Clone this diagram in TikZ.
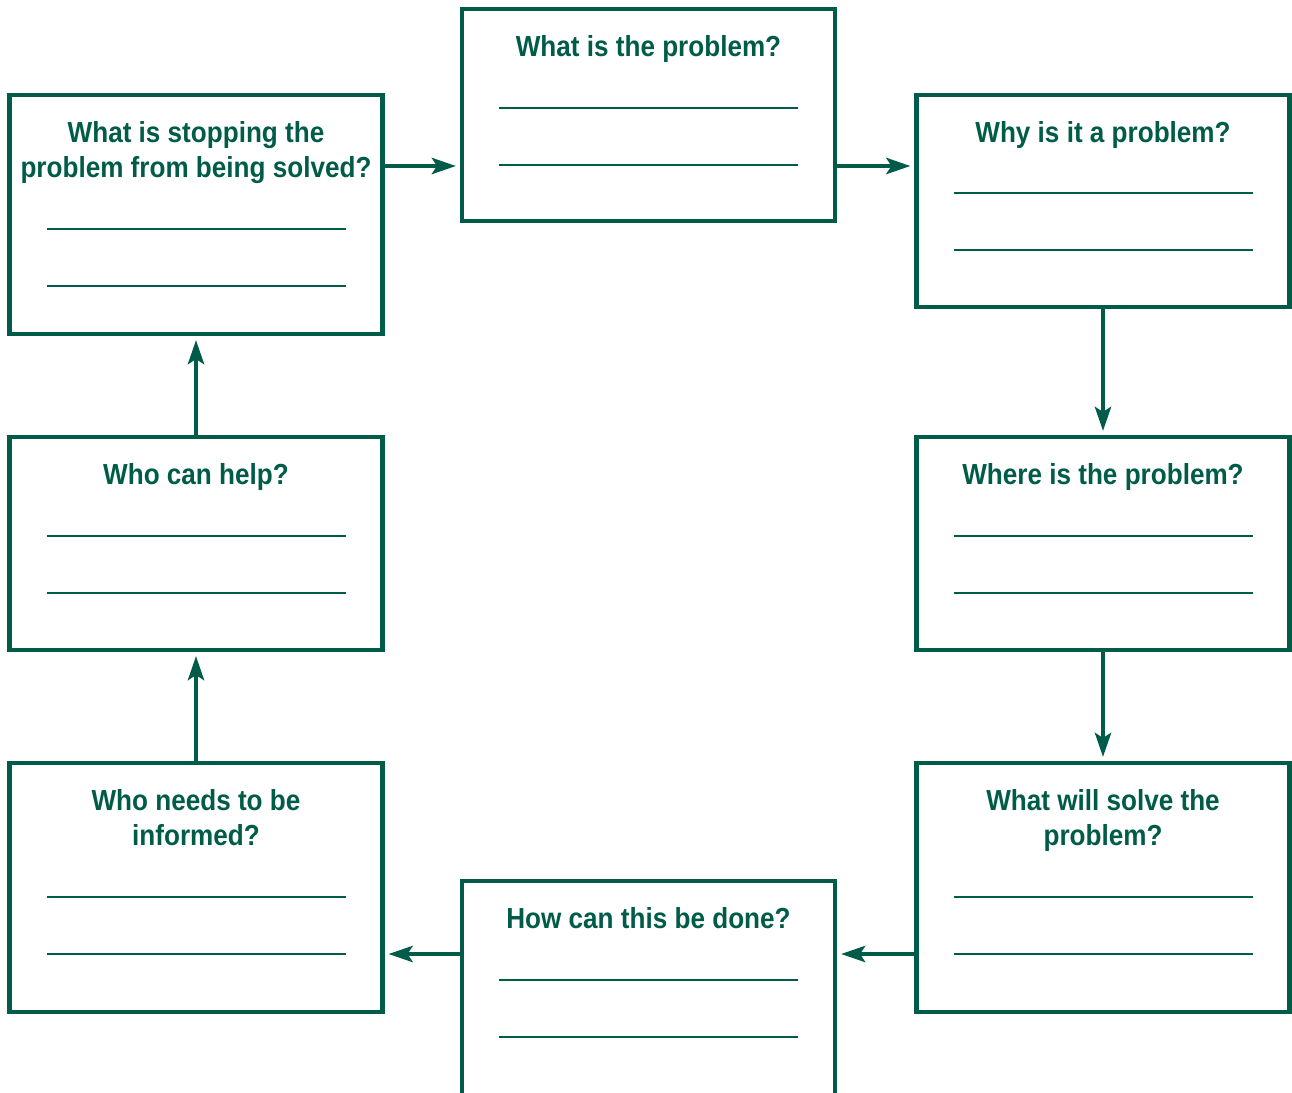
\documentclass[tikz,border=0pt]{standalone}
\usepackage{fontspec}
\setmainfont{Liberation Sans}[FakeStretch=0.9]
\usetikzlibrary{arrows.meta}
\definecolor{fgreen}{RGB}{0,92,72}
\tikzset{x=1pt, y=-1pt,
    qbox/.style={draw=fgreen, line width=4.5pt, minimum width=373pt, inner sep=0pt, outer sep=0pt},
    qtext/.style={text=fgreen, font=\fontsize{29}{35}\selectfont\bfseries, align=center, inner sep=0pt, anchor=north},
    flow/.style={draw=fgreen, line width=4.5pt, -{Stealth[length=24pt,width=16pt,inset=5pt]}, shorten >=6pt},
    blank/.style={draw=fgreen, line width=1.3pt},
    }
\begin{document}
\begin{tikzpicture}
\useasboundingbox (0,0) rectangle (1292,1092);
% boxes
\node[qbox, minimum height=212pt] (probl) at (648.5,115) {};
\node[qbox, minimum height=212pt] (why) at (1103,201) {};
\node[qbox, minimum height=213pt] (where) at (1103,543.5) {};
\node[qbox, minimum height=249pt] (solve) at (1103,887.5) {};
\node[qbox, minimum height=214pt] (how) at (648.5,988) {};
\node[qbox, minimum height=249pt] (inform) at (196,887.5) {};
\node[qbox, minimum height=213pt] (help) at (196,543.5) {};
\node[qbox, minimum height=239pt] (stop) at (196,214.5) {};
% questions
\node[qtext] (probl-q) at ([yshift=-26pt]probl.north) {What is the problem?};
\node[qtext] (why-q) at ([yshift=-26pt]why.north) {Why is it a problem?};
\node[qtext] (where-q) at ([yshift=-26pt]where.north) {Where is the problem?};
\node[qtext] (solve-q) at ([yshift=-26pt]solve.north) {What will solve the\\problem?};
\node[qtext] (how-q) at ([yshift=-26pt]how.north) {How can this be done?};
\node[qtext] (inform-q) at ([yshift=-26pt]inform.north) {Who needs to be\\informed?};
\node[qtext] (help-q) at ([yshift=-26pt]help.north) {Who can help?};
\node[qtext] (stop-q) at ([yshift=-26pt]stop.north) {What is stopping the\\problem from being solved?};
% lines to write on
\foreach \b/\d in {probl/99, why/98, where/99, solve/134, how/99, inform/134, help/99, stop/134}{
    \draw[blank] ([xshift=37pt,yshift=-\d pt]\b.north west) -- ([xshift=-37pt,yshift=-\d pt]\b.north east);
    \draw[blank] ([xshift=37pt,yshift=-\d pt-57pt]\b.north west) -- ([xshift=-37pt,yshift=-\d pt-57pt]\b.north east);
}
% arrows
\coordinate (toprow) at (0,166);
\coordinate (botrow) at (0,954);
\draw[flow] (stop.east |- toprow) -- (probl.west |- toprow);
\draw[flow] (probl.east |- toprow) -- (why.west |- toprow);
\draw[flow] (why.south) -- (where.north);
\draw[flow] (where.south) -- (solve.north);
\draw[flow] (solve.west |- botrow) -- (how.east |- botrow);
\draw[flow] (how.west |- botrow) -- (inform.east |- botrow);
\draw[flow] (inform.north) -- (help.south);
\draw[flow] (help.north) -- (stop.south);
\end{tikzpicture}
\end{document}
